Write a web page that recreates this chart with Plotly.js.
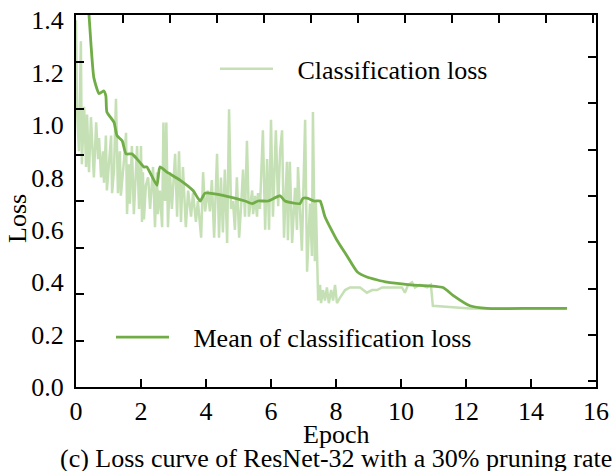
<!DOCTYPE html>
<html>
<head>
<meta charset="utf-8">
<script src="https://cdn.plot.ly/plotly-3.0.1.min.js"></script>
<style>html,body{margin:0;padding:0;background:#fff;}#chart{width:612px;height:471px;}</style>
</head>
<body>
<div id="chart"></div>
<script>
// Classification loss (raw, light green)
const lossEpoch = [0, 0.03, 0.09, 0.15, 0.18, 0.25, 0.31, 0.34, 0.40, 0.46, 0.55, 0.62, 0.68, 0.71, 0.77, 0.83, 0.86, 0.92, 0.95, 1.02, 1.08, 1.11, 1.17, 1.23, 1.29, 1.35, 1.38, 1.48, 1.54, 1.57, 1.63, 1.66, 1.72, 1.78, 1.88, 1.94, 2.00, 2.03,
  2.06, 2.09, 2.15, 2.22, 2.28, 2.37, 2.43, 2.49, 2.52, 2.58, 2.65, 2.69, 2.74, 2.78, 2.83, 2.89, 2.95, 3.05, 3.11, 3.17, 3.23, 3.29, 3.38, 3.45, 3.54, 3.60, 3.69, 3.75, 3.85, 3.91, 3.97, 4.06,
  4.12, 4.18, 4.25, 4.34, 4.40, 4.46, 4.52, 4.58, 4.65, 4.71, 4.77, 4.83, 4.89, 4.95, 5.02, 5.08, 5.14, 5.20, 5.26, 5.32, 5.42, 5.45, 5.51, 5.57, 5.60, 5.66, 5.75, 5.82, 5.88, 5.94, 6.00, 6.06,
  6.15, 6.22, 6.28, 6.34, 6.40, 6.49, 6.52, 6.58, 6.65, 6.74, 6.80, 6.83, 6.95, 7.05, 7.11, 7.20, 7.26, 7.29, 7.35, 7.38, 7.42, 7.45,
  7.51, 7.54, 7.60, 7.66, 7.72, 7.78, 7.85, 7.91, 7.97, 8.03, 8.12, 8.28, 8.43, 8.74, 8.95, 9.11, 9.26, 9.42, 9.57, 9.72, 9.88, 10.03, 10.12, 10.22, 10.34, 10.43, 10.58, 10.80, 10.92, 10.98, 12.12, 15.05];
const lossValue = [1.40, 1.06, 0.90, 1.32, 0.85, 1.07, 0.84, 1.04, 0.82, 1.03, 0.80, 1.01, 0.87, 0.95, 0.80, 0.90, 0.78, 0.96, 0.75, 0.87, 0.96, 0.74, 0.83, 1.10, 0.74, 0.90, 0.73, 0.87, 0.97, 0.66, 0.85, 0.70, 0.92, 0.66, 0.92, 0.68, 0.92, 0.63,
  0.82, 0.64, 0.77, 0.80, 0.68, 0.84, 0.61, 0.82, 0.66, 0.75, 0.61, 1.01, 0.71, 1.01, 0.61, 0.82, 0.68, 0.89, 0.65, 0.90, 0.63, 0.84, 0.61, 0.75, 0.65, 0.74, 0.63, 0.71, 0.57, 0.82, 0.67, 0.75,
  0.67, 0.79, 0.57, 0.89, 0.57, 0.80, 0.59, 0.83, 0.55, 1.06, 0.68, 0.71, 0.60, 0.80, 0.57, 0.69, 0.83, 0.65, 0.94, 0.65, 0.75, 0.66, 0.73, 0.65, 0.74, 0.68, 0.98, 0.60, 0.87, 0.60, 1.02, 0.65,
  0.98, 0.69, 0.90, 0.98, 0.57, 0.86, 0.56, 0.86, 0.55, 0.76, 0.60, 0.84, 0.52, 1.02, 0.44, 0.70, 0.50, 1.05, 0.48, 0.71, 0.41, 0.33,
  0.39, 0.32, 0.37, 0.33, 0.38, 0.32, 0.37, 0.33, 0.39, 0.32, 0.34, 0.37, 0.38, 0.38, 0.36, 0.37, 0.37, 0.38, 0.38, 0.38, 0.38, 0.38, 0.36, 0.39, 0.40, 0.38, 0.39, 0.38, 0.39, 0.31, 0.30, 0.30];

// Mean of classification loss (dark green)
const meanEpoch = [0.33, 0.46, 0.55, 0.71, 0.86, 0.92, 0.95, 1.17, 1.26, 1.42, 1.54, 1.72, 1.88, 2.09, 2.18, 2.49, 2.58, 2.80, 3.20, 3.60, 3.82, 3.97, 4.58, 5.20, 5.42, 5.60, 5.91, 6.28, 6.43, 6.89, 6.98, 7.14, 7.32, 7.51, 7.57, 7.66, 8.03, 8.34, 8.65, 8.95, 9.57, 10.28, 11.29, 11.60, 12.12, 12.65, 14.06, 15.11];
const meanValue = [1.55, 1.31, 1.18, 1.12, 1.13, 1.11, 1.05, 1.01, 0.96, 0.94, 0.89, 0.89, 0.87, 0.84, 0.84, 0.77, 0.84, 0.82, 0.79, 0.75, 0.71, 0.74, 0.73, 0.71, 0.70, 0.71, 0.71, 0.73, 0.71, 0.70, 0.72, 0.72, 0.71, 0.71, 0.69, 0.65, 0.56, 0.50, 0.44, 0.42, 0.40, 0.39, 0.38, 0.35, 0.31, 0.30, 0.30, 0.30];

const yTickVals = [0, 0.2, 0.4, 0.6, 0.8, 1.0, 1.2, 1.4];
const yTickText = ['0.0', '0.2', '0.4', '0.6', '0.8', '1.0', '1.2', '1.4'];
const xTickVals = [0, 2, 4, 6, 8, 10, 12, 14, 16];
const xTickText = ['0', '2', '4', '6', '8', '10', '12', '14', '16'];

const FONT = 'Liberation Serif, Times New Roman, serif';
const FS = 26;
const PAD = '\u00a0\u00a0\u00a0';

const traces = [
  {x: lossEpoch, y: lossValue, type: 'scatter', mode: 'lines', name: PAD + 'Classification loss',
   line: {color: '#c5e0b4', width: 2.5}, legend: 'legend'},
  {x: meanEpoch, y: meanValue, type: 'scatter', mode: 'lines', name: PAD + 'Mean of classification loss',
   line: {color: '#70ad47', width: 2.8, shape: 'spline', smoothing: 0.5}, legend: 'legend2'},
  {x: [], y: [], xaxis: 'x2', yaxis: 'y2', showlegend: false, hoverinfo: 'skip'},
  {x: [], y: [], xaxis: 'x', yaxis: 'y3', showlegend: false, hoverinfo: 'skip'}
];

const layout = {
  width: 612, height: 471,
  margin: {l: 76, r: 16, t: 15, b: 84},
  paper_bgcolor: '#fff', plot_bgcolor: '#fff',
  font: {family: FONT, size: FS, color: '#000'},
  showlegend: true,
  xaxis: {range: [0, 16], tickvals: xTickVals, ticktext: xTickText, ticks: 'inside', ticklen: 8, tickwidth: 2,
          tickcolor: '#000', showline: true, linewidth: 2, linecolor: '#000', mirror: true,
          showgrid: false, zeroline: false, tickfont: {size: FS}},
  xaxis2: {overlaying: 'x', side: 'top', anchor: 'y2', range: [0, 11.06], tickvals: [1,2,3,4,5,6,7,8,9,10,11],
           ticks: 'inside', ticklen: 8, tickwidth: 2, tickcolor: '#000', showticklabels: false,
           showline: false, showgrid: false, zeroline: false},
  yaxis: {range: [0, 1.42], tickvals: yTickVals, ticktext: yTickText, ticks: '', showline: true, linewidth: 2,
          linecolor: '#000', mirror: true, showgrid: false, zeroline: false, tickfont: {size: FS}, ticklabelstandoff: 5},
  yaxis2: {overlaying: 'y', side: 'left', anchor: 'x2', range: [0, 8.02], tickvals: [1,2,3,4,5,6,7],
           ticks: 'inside', ticklen: 8, tickwidth: 2, tickcolor: '#000', showticklabels: false,
           showline: false, showgrid: false, zeroline: false},
  yaxis3: {overlaying: 'y', side: 'right', anchor: 'x', range: [-1.12, 6.90], tickvals: [-1,0,1,2,3,4,5,6],
           ticks: 'inside', ticklen: 8, tickwidth: 2, tickcolor: '#000', showticklabels: false,
           showline: false, showgrid: false, zeroline: false},
  legend: {x: 0.2673, y: 0.855, xanchor: 'left', yanchor: 'middle', bgcolor: 'rgba(0,0,0,0)',
           font: {family: FONT, size: FS}, itemwidth: 53},
  legend2: {x: 0.0673, y: 0.134, xanchor: 'left', yanchor: 'middle', bgcolor: 'rgba(0,0,0,0)',
            font: {family: FONT, size: FS}, itemwidth: 53},
  annotations: [
    {text: 'Loss', xref: 'paper', yref: 'paper', x: -0.1115, y: 0.452, xanchor: 'center', yanchor: 'middle',
     textangle: -90, showarrow: false, font: {family: FONT, size: FS}},
    {text: 'Epoch', xref: 'paper', yref: 'paper', x: 0.5, y: -0.127, xanchor: 'center', yanchor: 'middle',
     showarrow: false, font: {family: FONT, size: FS}},
    {text: '(c) Loss curve of ResNet-32 with a 30% pruning rate', xref: 'paper', yref: 'paper', x: -0.0346, y: -0.1935,
     xanchor: 'left', yanchor: 'middle', showarrow: false, font: {family: FONT, size: FS}}
  ]
};

Plotly.newPlot('chart', traces, layout, {displayModeBar: false, staticPlot: true});
</script>
</body>
</html>
